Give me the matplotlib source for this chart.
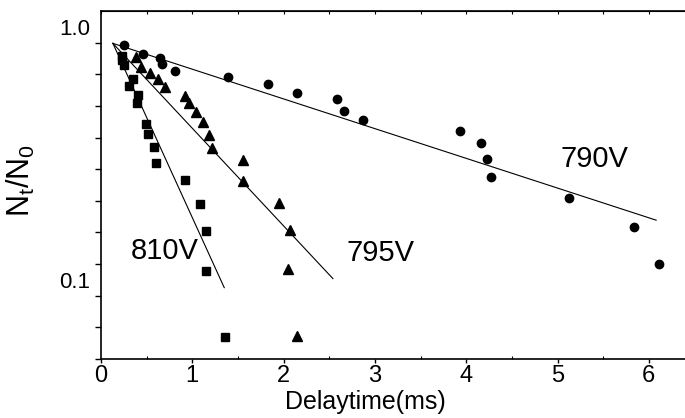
import numpy as np
import matplotlib
matplotlib.use("Agg")
import matplotlib.pyplot as plt

plt.rcParams['font.family'] = ['Liberation Sans', 'DejaVu Sans']
plt.rcParams['mathtext.fontset'] = 'custom'
plt.rcParams['mathtext.rm'] = 'Liberation Sans'

# 790 V (circles)
t_790 = [0.25, 0.46, 0.65, 0.67, 0.81, 1.39, 1.83, 2.15, 2.59, 2.66, 2.87,
         3.93, 4.16, 4.23, 4.27, 5.13, 5.84, 6.11]
n_790 = [0.848, 0.781, 0.753, 0.713, 0.669, 0.633, 0.592, 0.548, 0.519, 0.465,
         0.428, 0.388, 0.346, 0.300, 0.255, 0.210, 0.162, 0.115]

# 795 V (triangles)
t_795 = [0.38, 0.44, 0.54, 0.62, 0.70, 0.92, 0.96, 1.04, 1.12, 1.18, 1.22,
         1.56, 1.56, 1.95, 2.07, 2.05, 2.15]
n_795 = [0.757, 0.696, 0.657, 0.622, 0.581, 0.535, 0.501, 0.462, 0.419, 0.372,
         0.331, 0.298, 0.246, 0.201, 0.157, 0.110, 0.060]

# 810 V (squares)
t_810 = [0.225, 0.23, 0.25, 0.35, 0.31, 0.41, 0.39, 0.49, 0.52, 0.58, 0.60,
         0.92, 1.08, 1.15, 1.15, 1.36]
n_810 = [0.767, 0.740, 0.704, 0.622, 0.586, 0.540, 0.502, 0.413, 0.377, 0.334,
         0.290, 0.247, 0.199, 0.156, 0.108, 0.0595]

# exponential fits: (start, end) for each voltage
fit_t = {'790V': [0.13, 6.08], '795V': [0.13, 2.54], '810V': [0.13, 1.35]}
fit_n = {'790V': [0.861, 0.172], '795V': [0.861, 0.101], '810V': [0.861, 0.093]}

fig = plt.figure(figsize=(6.85, 4.18), dpi=100)
ax = fig.add_axes([101 / 685, 1 - 359 / 418, 584 / 685, 348 / 418])

for key in fit_t:
    ax.plot(fit_t[key], fit_n[key], color='black', lw=0.8)

ax.plot(t_790, n_790, 'o', color='black', ms=6, ls='none')
ax.plot(t_795, n_795, '^', color='black', ms=7.5, ls='none')
ax.plot(t_810, n_810, 's', color='black', ms=5.2, ls='none')

ax.set_yscale('log')
ax.set_xlim(0, 6.396)
ax.set_ylim(0.04857, 1.156)

ax.set_yticks([1.0, 0.1])
ax.set_yticklabels(['1.0', '0.1'])
ax.set_yticks(10 ** (-(0.5 + np.arange(11)) / 8), minor=True)
ax.yaxis.set_minor_formatter(matplotlib.ticker.NullFormatter())
ax.tick_params(axis='y', which='major', length=0, pad=8, labelsize=16)
ax.tick_params(axis='y', which='minor', direction='out', length=4, width=1)

ax.set_xticks(range(7))
ax.set_xticks(np.arange(0.5, 6.5, 1.0), minor=True)
ax.tick_params(axis='x', which='major', direction='out', length=3, width=1,
               pad=1.5, labelsize=17)
ax.tick_params(axis='x', which='minor', direction='in', length=2, width=0.8)

top = ax.secondary_xaxis('top')
top.set_xticks(np.arange(0, 6.5, 0.5))
top.tick_params(direction='in', length=2, width=0.8, labeltop=False)

ax.spines['right'].set_visible(False)
for s in ['left', 'bottom', 'top']:
    ax.spines[s].set_linewidth(1.2)

ax.set_xlabel('Delaytime(ms)', fontsize=18)
ax.xaxis.set_label_coords(0.452, -0.088)
ax.set_ylabel(r'$\mathregular{N_t/N_0}$', fontsize=22)
ax.yaxis.set_label_coords(-0.11, 0.514)

ax.text(0.70, 0.130, '810V', fontsize=21, ha='center', va='center')
ax.text(3.06, 0.128, '795V', fontsize=21, ha='center', va='center')
ax.text(5.40, 0.300, '790V', fontsize=21, ha='center', va='center')

fig.savefig('out.png', dpi=100)
